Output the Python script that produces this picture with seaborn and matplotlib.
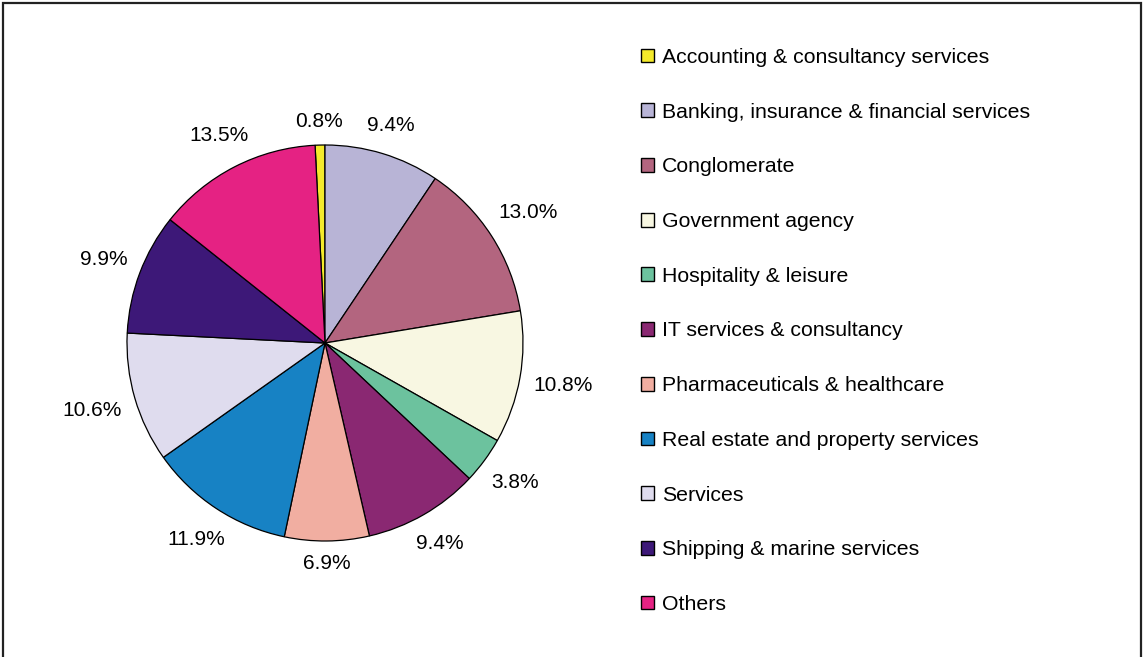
import numpy as np
import matplotlib
matplotlib.use("Agg")
import matplotlib.pyplot as plt
from matplotlib.patches import Patch, Rectangle
import seaborn as sns

# Sector shares (%)
sectors = [
    "Accounting & consultancy services",
    "Banking, insurance & financial services",
    "Conglomerate",
    "Government agency",
    "Hospitality & leisure",
    "IT services & consultancy",
    "Pharmaceuticals & healthcare",
    "Real estate and property services",
    "Services",
    "Shipping & marine services",
    "Others",
]
shares = [0.8, 9.4, 13.0, 10.8, 3.8, 9.4, 6.9, 11.9, 10.6, 9.9, 13.5]
colors = [
    "#F4EA2B", "#B8B4D6", "#B3657F", "#F8F7E2", "#6CC29E", "#8A2872",
    "#F1AEA1", "#1782C4", "#DFDCEE", "#3D1878", "#E52283",
]

sns.set_theme(style="white")
plt.rcParams["font.family"] = ["Liberation Sans", "DejaVu Sans"]
plt.rcParams["text.color"] = "black"
FS = 15
LEG_FS = 15.3

W, H = 1144, 657
fig = plt.figure(figsize=(W / 100, H / 100), dpi=100)

# Pie axes: centre (325, 343) px, radius ~198 px, limits +-1.4
cx, cy, rad = 325, 343, 198
half = 1.4 * rad
ax = fig.add_axes([(cx - half) / W, (H - cy - half) / H, 2 * half / W, 2 * half / H])

total = sum(shares)
wedges, _ = ax.pie(
    shares,
    colors=colors,
    startangle=90 + 360 * shares[0] / total,
    counterclock=False,
    radius=1.0,
    wedgeprops=dict(edgecolor="black", linewidth=0.9),
)
ax.set_xlim(-1.4, 1.4)
ax.set_ylim(-1.4, 1.4)
ax.set_aspect("equal")
ax.axis("off")

# Percentage labels placed just outside the rim
fig.canvas.draw()
renderer = fig.canvas.get_renderer()
px_per_unit = rad
gap = 13
for w, v in zip(wedges, shares):
    th = np.deg2rad((w.theta1 + w.theta2) / 2)
    t = ax.text(0, 0, f"{v:.1f}%", ha="center", va="center", fontsize=FS,
                color="black", clip_on=False)
    bb = t.get_window_extent(renderer)
    ext = abs(np.cos(th)) * bb.width / 2 + abs(np.sin(th)) * bb.height / 2
    d = (rad + gap + ext) / px_per_unit
    t.set_position((d * np.cos(th), d * np.sin(th)))

# Legend
handles = [Patch(facecolor=c, edgecolor="black", linewidth=1.0) for c in colors]
fig.legend(
    handles, sectors,
    loc="upper left",
    bbox_to_anchor=(641 / W, 1 - 48 / H),
    frameon=False,
    fontsize=LEG_FS,
    labelcolor="black",
    handlelength=0.62,
    handleheight=0.62,
    handletextpad=0.35,
    labelspacing=1.68,
    borderpad=0,
    borderaxespad=0,
)

# Outer frame
fig.patches.append(Rectangle((3 / W, -0.05), (1141 - 3) / W, 1.05 - 3 / H,
                             transform=fig.transFigure, fill=False,
                             edgecolor="#222222", linewidth=1.6))

fig.savefig("out.png", dpi=100)
